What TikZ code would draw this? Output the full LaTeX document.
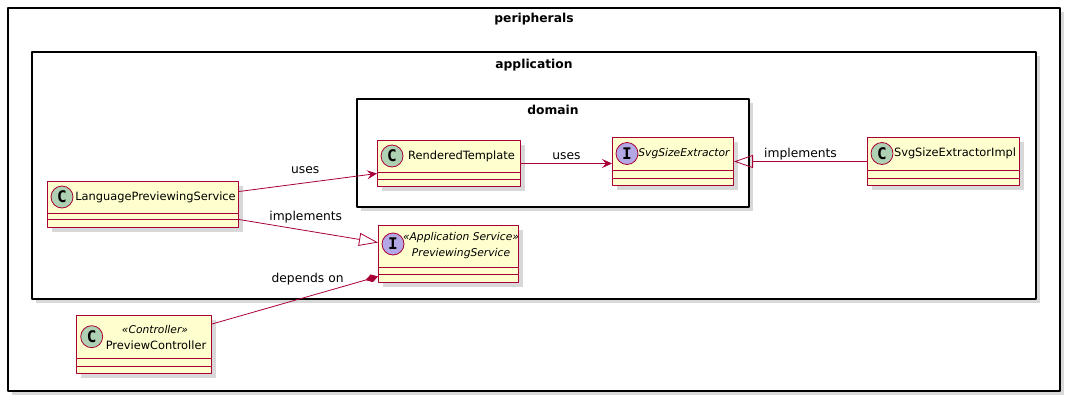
\documentclass[tikz,border=0pt]{standalone}
\usepackage{fontspec}
\setmainfont{DejaVu Sans}
\newfontfamily\iconfont{DejaVu Sans Mono}
\usetikzlibrary{arrows.meta,shadows}
\definecolor{umlred}{HTML}{A80036}
\definecolor{umlfill}{HTML}{FEFECE}
\definecolor{clsgreen}{HTML}{ADD1B2}
\definecolor{ifcpurple}{HTML}{B4A7E5}
\tikzset{
	shade/.style={drop shadow={shadow xshift=4pt,shadow yshift=-4pt,opacity=0.3}},
	pkg/.style={draw=black,line width=1.5pt,fill=white,shade},
	pkgtitle/.style={font=\fontsize{12.3}{14}\selectfont\bfseries,inner sep=0pt},
	cls/.style={draw=umlred,line width=1pt,fill=umlfill,anchor=north west,inner sep=0pt,shade},
	clsline/.style={draw=umlred,line width=1pt},
	cicon/.style={circle,draw=umlred,line width=0.8pt,fill=clsgreen,minimum size=22pt,inner sep=0pt,font=\iconfont\fontsize{16}{16}\selectfont\bfseries},
	iicon/.style={cicon,fill=ifcpurple},
	clsname/.style={font=\fontsize{11.4}{13}\selectfont,inner sep=0pt},
	itname/.style={font=\fontsize{10.7}{12}\selectfont\itshape,inner sep=0pt},
	conn/.style={draw=umlred,line width=0.8pt},
	lbl/.style={font=\fontsize{12.3}{14}\selectfont,text=black,text height=9pt,text depth=3pt,inner sep=0pt},
	uses/.style={conn,-{Stealth[length=10pt,width=9pt,inset=4pt]}},
	realizes/.style={conn,-{Triangle[open,length=19pt,width=13pt]}},
	owns/.style={conn,-{Diamond[length=13pt,width=8pt]}}
}
\begin{document}
\begin{tikzpicture}[x=1pt,y=-1pt,line join=round]
	\useasboundingbox (0,0) rectangle (1071,402);
	% packages
	\draw[pkg] (8,8) rectangle (1060,391);
	\node[pkgtitle] (periph) at (534,19) {peripherals};
	\draw[pkg] (32,52) rectangle (1036,299);
	\node[pkgtitle] (appl) at (534,65) {application};
	\draw[pkg] (357,99) rectangle (749,207);
	\node[pkgtitle] (dom) at (553,110) {domain};
	% classes
	\node[cls,minimum width=191pt,minimum height=46pt] (lps) at (47,181) {};
	\draw[clsline] ([yshift=-32pt]lps.north west) -- ([yshift=-32pt]lps.north east)
		([yshift=-38pt]lps.north west) -- ([yshift=-38pt]lps.north east);
	\node[cicon] (lpsicon) at (62,197) {C};
	\node[clsname] (lpsname) at (155.5,197) {LanguagePreviewingService};

	\node[cls,minimum width=143pt,minimum height=46pt] (rt) at (377,140) {};
	\draw[clsline] ([yshift=-32pt]rt.north west) -- ([yshift=-32pt]rt.north east)
		([yshift=-39pt]rt.north west) -- ([yshift=-39pt]rt.north east);
	\node[cicon] (rticon) at (392,156) {C};
	\node[clsname] (rtname) at (461.5,156) {RenderedTemplate};

	\node[cls,minimum width=121pt,minimum height=48pt] (sse) at (612,137) {};
	\draw[clsline] ([yshift=-33pt]sse.north west) -- ([yshift=-33pt]sse.north east)
		([yshift=-41pt]sse.north west) -- ([yshift=-41pt]sse.north east);
	\node[iicon] (sseicon) at (627,153.5) {I};
	\node[itname] (ssename) at (684,153.5) {SvgSizeExtractor};

	\node[cls,minimum width=152pt,minimum height=48pt] (ssei) at (867,137) {};
	\draw[clsline] ([yshift=-33pt]ssei.north west) -- ([yshift=-33pt]ssei.north east)
		([yshift=-41pt]ssei.north west) -- ([yshift=-41pt]ssei.north east);
	\node[cicon] (sseiicon) at (882,153.5) {C};
	\node[clsname] (sseiname) at (955,153.5) {SvgSizeExtractorImpl};

	\node[cls,minimum width=140pt,minimum height=57pt] (ps) at (378,225) {};
	\draw[clsline] ([yshift=-42pt]ps.north west) -- ([yshift=-42pt]ps.north east)
		([yshift=-49pt]ps.north west) -- ([yshift=-49pt]ps.north east);
	\node[iicon] (psicon) at (393,244) {I};
	\node[itname] (psstereo) at (461,237.7) {«Application Service»};
	\node[itname] (psname) at (461,253.3) {PreviewingService};

	\node[cls,minimum width=135pt,minimum height=58pt] (pc) at (76,315) {};
	\draw[clsline] ([yshift=-43pt]pc.north west) -- ([yshift=-43pt]pc.north east)
		([yshift=-51pt]pc.north west) -- ([yshift=-51pt]pc.north east);
	\node[cicon] (pcicon) at (91.7,336.7) {C};
	\node[itname] (pcstereo) at (155,329.3) {«Controller»};
	\node[clsname] (pcname) at (156,345) {PreviewController};
	% relations
	\draw[uses] ([yshift=13pt]lps.east) -- node[lbl,pos=.48,above=5.5pt] {uses} ([yshift=-10pt]rt.west);
	\draw[uses] (rt.east) -- node[lbl,midway,above=1pt] {uses} (rt.east -| sse.west);
	\draw[realizes] (ssei.west) -- node[lbl,midway,above=0.7pt] {implements} (sse.east);
	\draw[realizes] ([yshift=-15pt]lps.east) -- node[lbl,pos=.48,above=6.5pt] {implements} ([yshift=11.5pt]ps.west);
	\draw[owns] ([yshift=20.5pt]pc.east) -- node[lbl,pos=.576,above=11pt] {depends on} ([yshift=-22.5pt]ps.west);
\end{tikzpicture}
\end{document}
